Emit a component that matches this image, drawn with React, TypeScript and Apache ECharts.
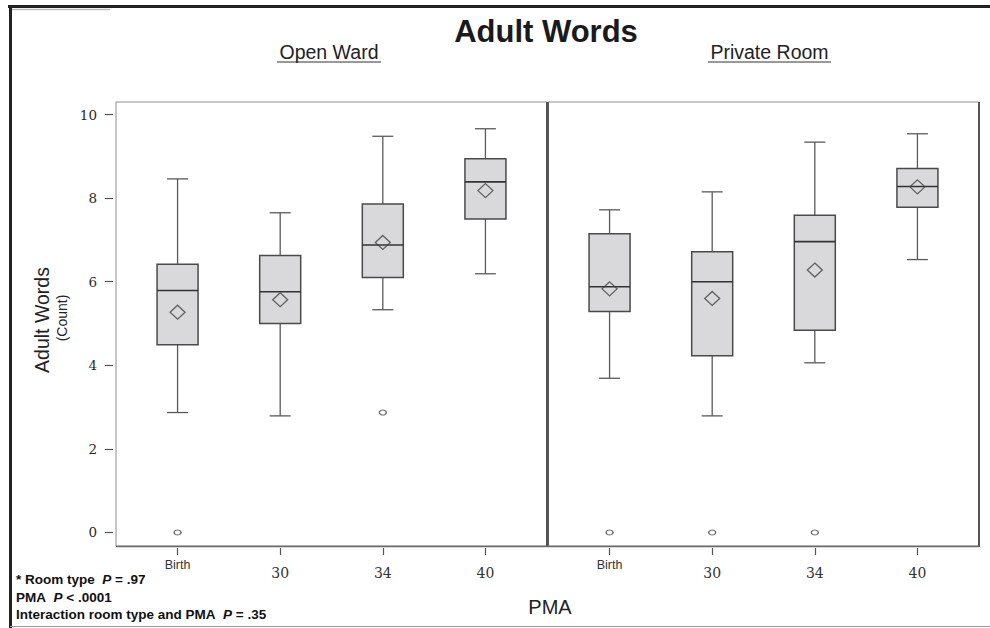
import React, { useEffect, useRef } from "react";
import * as echarts from "echarts";

// ---- data ----
const categories = ["Birth", "30", "34", "40"];
// [whiskerLow, q1, median, q3, whiskerHigh]
const openWardStats = [
  [2.87, 4.49, 5.79, 6.42, 8.46],
  [2.79, 5.0, 5.76, 6.63, 7.65],
  [5.33, 6.1, 6.88, 7.86, 9.48],
  [6.19, 7.5, 8.39, 8.94, 9.66],
];
const openWardMeans = [5.27, 5.57, 6.94, 8.18];
const openWardOutliers = [
  [0, 0],
  [2, 2.87],
];
const privateRoomStats = [
  [3.69, 5.29, 5.88, 7.15, 7.72],
  [2.79, 4.23, 6.0, 6.72, 8.15],
  [4.06, 4.84, 6.96, 7.59, 9.34],
  [6.53, 7.78, 8.28, 8.71, 9.54],
];
const privateRoomMeans = [5.83, 5.6, 6.28, 8.27];
const privateRoomOutliers = [
  [0, 0],
  [1, 0],
  [2, 0],
];
const yTicks = [0, 2, 4, 6, 8, 10];
const xTicks = [0, 1, 2, 3];

const BOX_W = 41;
const CAP_W = 21;
const BOX_FILL = "#d9d9dc";
const BOX_STROKE = "#4a4a4a";
const WHISKER = "#5a5a5a";

function renderBox(params: any, api: any) {
  const x = api.value(0);
  const lo = api.coord([x, api.value(1)]);
  const q1 = api.coord([x, api.value(2)]);
  const med = api.coord([x, api.value(3)]);
  const q3 = api.coord([x, api.value(4)]);
  const hi = api.coord([x, api.value(5)]);
  const cx = lo[0];
  const hw = BOX_W / 2;
  const cw = CAP_W / 2;
  const ws = { stroke: WHISKER, lineWidth: 1.3 };
  return {
    type: "group",
    children: [
      { type: "line", shape: { x1: cx, y1: hi[1], x2: cx, y2: q3[1] }, style: ws },
      { type: "line", shape: { x1: cx, y1: q1[1], x2: cx, y2: lo[1] }, style: ws },
      { type: "line", shape: { x1: cx - cw, y1: hi[1], x2: cx + cw, y2: hi[1] }, style: ws },
      { type: "line", shape: { x1: cx - cw, y1: lo[1], x2: cx + cw, y2: lo[1] }, style: ws },
      {
        type: "rect",
        shape: { x: cx - hw, y: q3[1], width: BOX_W, height: q1[1] - q3[1] },
        style: { fill: BOX_FILL, stroke: BOX_STROKE, lineWidth: 1.5 },
      },
      {
        type: "line",
        shape: { x1: cx - hw, y1: med[1], x2: cx + hw, y2: med[1] },
        style: { stroke: "#333", lineWidth: 1.6 },
      },
    ],
  };
}

const Y_MIN = -0.323;
const Y_MAX = 10.3;

function makeXAxis(gridIndex: number) {
  return {
    type: "value",
    gridIndex,
    min: -0.6,
    max: 3.6,
    position: "bottom",
    offset: 2,
    axisLine: { show: false, onZero: false },
    splitLine: { show: false },
    axisTick: {
      show: true,
      length: 7,
      customValues: xTicks,
      lineStyle: { color: "#555", width: 1.2 },
    },
    axisLabel: {
      show: true,
      customValues: xTicks,
      margin: 10,
      formatter: (v: number) => {
        const c = categories[Math.round(v)];
        return c === "Birth" ? "{b|" + c + "}" : "{n|" + c + "}";
      },
      rich: {
        b: { fontFamily: "Liberation Sans", fontSize: 12.5, color: "#333" },
        n: {
          fontFamily: "DejaVu Serif",
          fontSize: 14,
          color: "#333",
          padding: [8, 0, 0, 0],
        },
      },
    },
  };
}

function makeYAxis(gridIndex: number, showLabels: boolean) {
  return {
    type: "value",
    gridIndex,
    min: Y_MIN,
    max: Y_MAX,
    position: "left",
    offset: 3,
    axisLine: { show: false, onZero: false },
    splitLine: { show: false },
    axisTick: {
      show: showLabels,
      length: 8,
      customValues: yTicks,
      lineStyle: { color: "#555", width: 1.2 },
    },
    axisLabel: {
      show: showLabels,
      customValues: yTicks,
      margin: 16,
      fontFamily: "DejaVu Serif",
      fontSize: 13.5,
      color: "#2a2a2a",
    },
  };
}

export default function App() {
  const ref = useRef<HTMLDivElement>(null);
  useEffect(() => {
    if (!ref.current) return;
    const chart = echarts.init(ref.current, null, { renderer: "svg" });
    const meanStyle = {
      color: "rgba(0,0,0,0)",
      borderColor: "#444",
      borderWidth: 1.3,
    };
    const outStyle = {
      color: "rgba(0,0,0,0)",
      borderColor: "#444",
      borderWidth: 1.2,
    };
    const annRich = {
      b: { fontFamily: "Liberation Sans", fontWeight: "bold", fontSize: 13.5, fill: "#111" },
      i: { fontFamily: "Liberation Sans", fontWeight: "bold", fontStyle: "italic", fontSize: 13.5, fill: "#111" },
    };
    chart.setOption({
      animation: false,
      backgroundColor: "#ffffff",
      grid: [
        {
          left: 116,
          top: 102,
          width: 431,
          height: 444,
          show: true,
          borderColor: "#8e8e8e",
          borderWidth: 1,
          backgroundColor: "rgba(0,0,0,0)",
        },
        {
          left: 548,
          top: 102,
          width: 431,
          height: 444,
          show: true,
          borderColor: "#8e8e8e",
          borderWidth: 1,
          backgroundColor: "rgba(0,0,0,0)",
        },
      ],
      xAxis: [makeXAxis(0), makeXAxis(1)],
      yAxis: [makeYAxis(0, true), makeYAxis(1, false)],
      series: [
        {
          type: "custom",
          xAxisIndex: 0,
          yAxisIndex: 0,
          renderItem: renderBox,
          encode: { x: 0, y: [1, 2, 3, 4, 5] },
          data: openWardStats.map((s, i) => [i, ...s]),
          z: 2,
        },
        {
          type: "custom",
          xAxisIndex: 1,
          yAxisIndex: 1,
          renderItem: renderBox,
          encode: { x: 0, y: [1, 2, 3, 4, 5] },
          data: privateRoomStats.map((s, i) => [i, ...s]),
          z: 2,
        },
        {
          type: "scatter",
          xAxisIndex: 0,
          yAxisIndex: 0,
          symbol: "diamond",
          symbolSize: [15, 14],
          itemStyle: meanStyle,
          data: openWardMeans.map((m, i) => [i, m]),
          z: 3,
        },
        {
          type: "scatter",
          xAxisIndex: 1,
          yAxisIndex: 1,
          symbol: "diamond",
          symbolSize: [15, 14],
          itemStyle: meanStyle,
          data: privateRoomMeans.map((m, i) => [i, m]),
          z: 3,
        },
        {
          type: "scatter",
          xAxisIndex: 0,
          yAxisIndex: 0,
          symbol: "circle",
          symbolSize: [7, 5],
          itemStyle: outStyle,
          data: openWardOutliers,
          z: 3,
        },
        {
          type: "scatter",
          xAxisIndex: 1,
          yAxisIndex: 1,
          symbol: "circle",
          symbolSize: [7, 5],
          itemStyle: outStyle,
          data: privateRoomOutliers,
          z: 3,
        },
      ],
      graphic: [
        // outer frame
        { type: "line", shape: { x1: 8, y1: 6.5, x2: 990, y2: 6.5 }, style: { stroke: "#222", lineWidth: 3 } },
        { type: "line", shape: { x1: 12, y1: 9.5, x2: 110, y2: 9.5 }, style: { stroke: "#bbb", lineWidth: 1.5 } },
        { type: "line", shape: { x1: 10.5, y1: 5, x2: 10.5, y2: 628 }, style: { stroke: "#222", lineWidth: 3 } },
        { type: "line", shape: { x1: 10, y1: 626.5, x2: 990, y2: 626.5 }, style: { stroke: "#9a9a9a", lineWidth: 1 } },
        // darker panel edges
        { type: "line", shape: { x1: 547.5, y1: 102, x2: 547.5, y2: 546 }, style: { stroke: "#555", lineWidth: 3 } },
        { type: "line", shape: { x1: 979, y1: 102, x2: 979, y2: 547 }, style: { stroke: "#555", lineWidth: 2 } },
        { type: "line", shape: { x1: 116, y1: 546.5, x2: 979, y2: 546.5 }, style: { stroke: "#6a6a6a", lineWidth: 1.5 } },
        // title
        {
          type: "text",
          x: 546,
          y: 31,
          style: {
            text: "Adult Words",
            fontFamily: "Liberation Sans",
            fontWeight: "bold",
            fontSize: 31,
            fill: "#1a1a1a",
            textAlign: "center",
            textVerticalAlign: "middle",
          },
        },
        {
          type: "text",
          x: 329,
          y: 52,
          style: {
            text: "Open Ward",
            fontFamily: "Liberation Sans",
            fontSize: 19.5,
            fill: "#222",
            textAlign: "center",
            textVerticalAlign: "middle",
          },
        },
        { type: "line", shape: { x1: 277, y1: 62, x2: 381, y2: 62 }, style: { stroke: "#333", lineWidth: 1 } },
        {
          type: "text",
          x: 769.5,
          y: 52,
          style: {
            text: "Private Room",
            fontFamily: "Liberation Sans",
            fontSize: 19.5,
            fill: "#222",
            textAlign: "center",
            textVerticalAlign: "middle",
          },
        },
        { type: "line", shape: { x1: 708, y1: 62, x2: 831, y2: 62 }, style: { stroke: "#333", lineWidth: 1 } },
        // y axis name
        {
          type: "text",
          x: 42,
          y: 320,
          rotation: Math.PI / 2,
          style: {
            text: "Adult Words",
            fontFamily: "Liberation Sans",
            fontSize: 19.5,
            fill: "#222",
            textAlign: "center",
            textVerticalAlign: "middle",
          },
        },
        {
          type: "text",
          x: 62,
          y: 318,
          rotation: Math.PI / 2,
          style: {
            text: "(Count)",
            fontFamily: "Liberation Sans",
            fontSize: 14,
            fill: "#222",
            textAlign: "center",
            textVerticalAlign: "middle",
          },
        },
        // x axis name
        {
          type: "text",
          x: 550,
          y: 607,
          style: {
            text: "PMA",
            fontFamily: "Liberation Sans",
            fontSize: 20,
            fill: "#222",
            textAlign: "center",
            textVerticalAlign: "middle",
          },
        },
        // annotations
        {
          type: "text",
          x: 16,
          y: 579,
          style: { text: "{b|* Room type  }{i|P}{b| = .97}", textVerticalAlign: "middle", rich: annRich },
        },
        {
          type: "text",
          x: 16,
          y: 597,
          style: { text: "{b|PMA  }{i|P}{b| < .0001}", textVerticalAlign: "middle", rich: annRich },
        },
        {
          type: "text",
          x: 16,
          y: 614,
          style: { text: "{b|Interaction room type and PMA  }{i|P}{b| = .35}", textVerticalAlign: "middle", rich: annRich },
        },
      ],
    });
    return () => chart.dispose();
  }, []);
  return (
    <div
      ref={ref}
      style={{ position: "fixed", left: 0, top: 0, width: 990, height: 628 }}
    />
  );
}
